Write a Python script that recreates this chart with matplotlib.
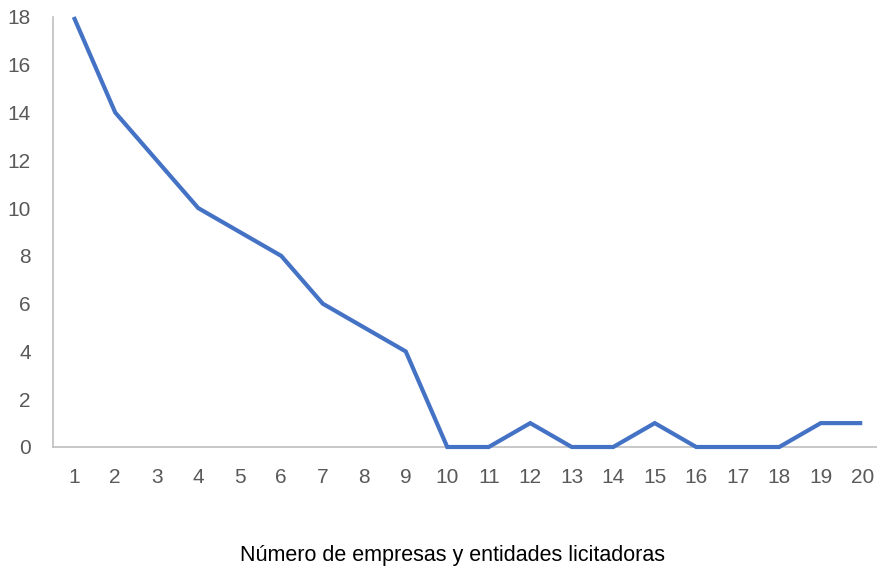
import matplotlib.pyplot as plt

empresas = list(range(1, 21))
frecuencia = [18, 14, 12, 10, 9, 8, 6, 5, 4, 0, 0, 1, 0, 0, 1, 0, 0, 0, 1, 1]
y_ticks = [0, 2, 4, 6, 8, 10, 12, 14, 16, 18]
x_label = "Número de empresas y entidades licitadoras"

plt.rcParams["font.family"] = ["Liberation Sans", "DejaVu Sans"]

fig = plt.figure(figsize=(8.77, 5.71), dpi=100)
ax = fig.add_axes([53 / 877, 1 - 447 / 571, (883 - 53) / 877, (447 - 17) / 571])
ax.plot(empresas, frecuencia, color="#4472C4", linewidth=3, solid_capstyle="butt",
        solid_joinstyle="miter", clip_on=False, zorder=3)

ax.set_xlim(0.5, 20.5)
ax.set_ylim(0, 18)
ax.set_xticks(empresas)
ax.set_yticks(y_ticks)
ax.tick_params(axis="both", length=0, labelsize=15, colors="#595959")
ax.tick_params(axis="y", pad=16)
ax.tick_params(axis="x", pad=15)

for side in ["top", "right"]:
    ax.spines[side].set_visible(False)
for side in ["left", "bottom"]:
    ax.spines[side].set_color("#BFBFBF")
    ax.spines[side].set_linewidth(1.2)

fig.text(453 / 877, 1 - 555 / 571, x_label, ha="center", va="center",
         fontsize=15.5, color="black")

fig.savefig("out.png", dpi=100)
